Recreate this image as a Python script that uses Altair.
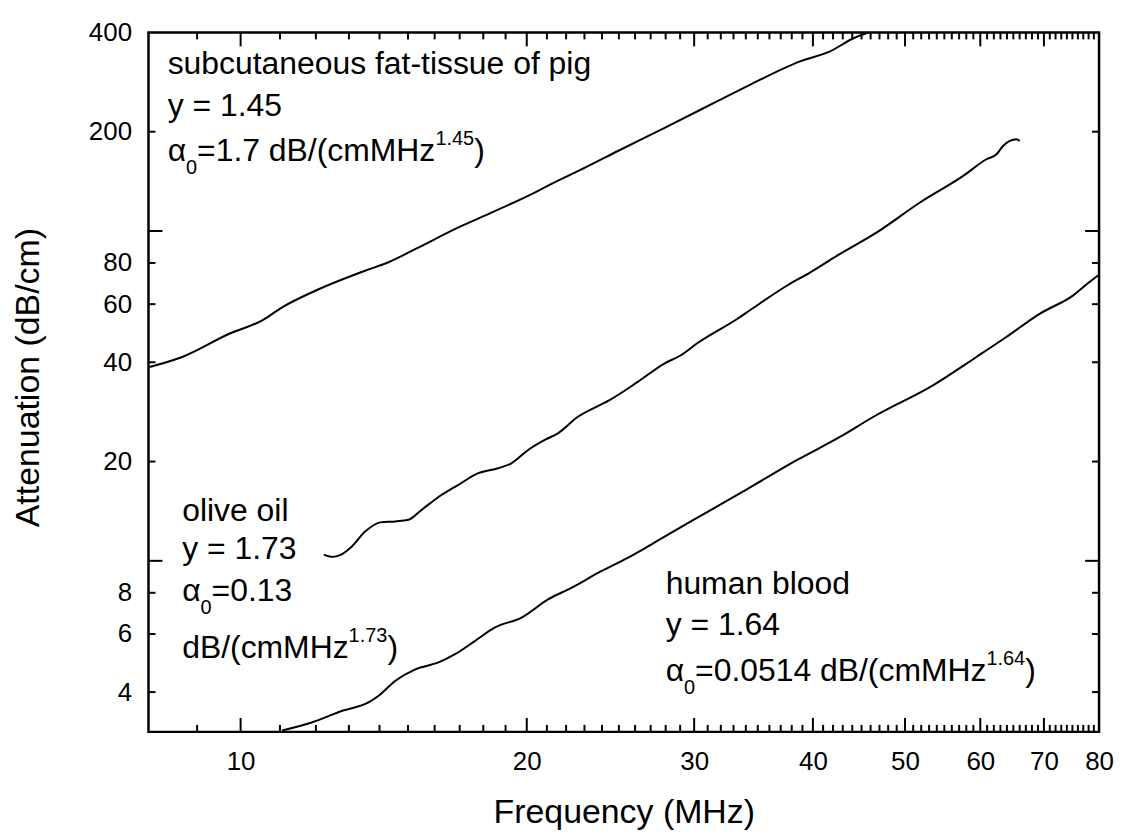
import altair as alt
import pandas as pd

# ---------------- data ----------------
fat_f = [8.02, 8.68, 9.73, 10.54, 11.06, 12.0, 13.54, 14.31, 15.28, 16.95, 18.22, 20.56,
         21.21, 23.03, 24.94, 27.93, 31.74, 34.38, 38.78, 41.7, 44.19, 45.8]
fat_a = [38.7, 41.5, 48.8, 53.6, 58.7, 66.0, 75.9, 80.4, 88.2, 102.5, 112.5, 132.4,
         138.7, 155.6, 174.8, 205.5, 247.5, 278.0, 326.8, 350.6, 384.6, 400.0]

oil_f = [12.23, 12.49, 12.74, 13.05, 13.53, 14.03, 14.55, 15.02, 15.51, 16.28, 16.95, 17.78,
         18.66, 19.27, 20.07, 20.89, 21.57, 22.64, 23.76, 24.44, 26.17, 27.91, 29.05, 30.25,
         33.32, 34.4, 37.58, 39.76, 42.42, 46.7, 51.84, 57.57, 60.9, 62.4, 63.4, 65.5, 66.0]
oil_a = [10.44, 10.28, 10.42, 10.95, 12.29, 13.08, 13.17, 13.32, 14.29, 15.86, 17.0, 18.44,
         19.09, 19.76, 21.68, 23.25, 24.36, 27.34, 29.45, 30.72, 34.87, 39.64, 42.0, 45.74,
         54.2, 57.7, 68.35, 74.95, 84.2, 99.0, 122.0, 146.9, 165.0, 170.8, 181.0, 189.6, 187.4]

blood_f = [11.06, 11.9, 12.79, 13.63, 13.97, 14.55, 15.27, 16.15, 16.81, 17.65, 18.52, 19.75,
           21.06, 22.28, 23.95, 25.54, 27.03, 29.76, 32.26, 34.96, 38.5, 42.75, 46.33, 53.55,
           59.44, 63.9, 69.27, 75.08, 78.1, 79.8]
blood_a = [3.06, 3.24, 3.51, 3.72, 3.90, 4.33, 4.69, 4.92, 5.21, 5.72, 6.28, 6.73,
           7.64, 8.28, 9.30, 10.21, 11.2, 13.17, 15.03, 17.2, 20.22, 23.78, 27.34, 34.1,
           41.5, 47.7, 56.1, 63.7, 69.9, 73.3]

x_labels = [10, 20, 30, 40, 50, 60, 70, 80]
y_labels = [4, 6, 8, 20, 40, 60, 80, 200, 400]
x_minor = [v for v in range(9, 80) if v % 10 != 0]
x_major = [10, 20, 30, 40, 50, 60, 70]
y_minor = [4, 6, 8, 20, 40, 60, 80, 200]
y_major = [10, 100]

# annotation texts (anchor frequency / attenuation)
ann_text = ["subcutaneous fat-tissue of pig", "y = 1.45", "α",
            "olive oil", "y = 1.73", "α", "dB/(cmMHz",
            "human blood", "y = 1.64", "α"]
ann_f = [8.38, 8.38, 8.38, 8.68, 8.68, 8.68, 8.68, 28.0, 28.0, 28.0]
ann_a = [298.7, 223.0, 163.0, 13.23, 10.16, 7.53, 5.07, 7.91, 5.95, 4.32]

alpha_f = [8.38, 8.68, 28.0]
alpha_a = [163.0, 7.53, 4.32]
after_sub_text = ["=1.7 dB/(cmMHz", "=0.13", "=0.0514 dB/(cmMHz"]

sup_text = ["1.45", "1.73", "1.64"]
sup_f = [16.03, 12.99, 60.9]
sup_a = [163.0, 5.07, 4.32]

# ---------------- chart ----------------
W, H = 954, 702
FONT = "Liberation Sans"
xs = alt.Scale(type="log", domain=[8, 80], nice=False)
ys = alt.Scale(type="log", domain=[3.03, 400], nice=False)

curves = pd.DataFrame({
    "series": ["fat"] * len(fat_f) + ["oil"] * len(oil_f) + ["blood"] * len(blood_f),
    "f": fat_f + oil_f + blood_f,
    "a": fat_a + oil_a + blood_a,
    "i": list(range(len(fat_f))) + list(range(len(oil_f))) + list(range(len(blood_f))),
})

x_axis = alt.Axis(values=x_labels, format="d", title="Frequency (MHz)", ticks=False,
                  domain=False, grid=False, labelFont=FONT, labelFontSize=26, labelColor="black",
                  labelPadding=17, labelFlush=False, labelOverlap=False,
                  titleFont=FONT, titleFontSize=34, titleFontWeight="normal", titleColor="black",
                  titleX=477, titleY=91, titleBaseline="alphabetic", titleAlign="center")
y_axis = alt.Axis(values=y_labels, format="d", title="Attenuation (dB/cm)", ticks=False,
                  domain=False, grid=False, labelFont=FONT, labelFontSize=26, labelColor="black",
                  labelPadding=17, labelFlush=False, labelOverlap=False,
                  titleFont=FONT, titleFontSize=34, titleFontWeight="normal", titleColor="black",
                  titleX=-110, titleY=346, titleAngle=270, titleBaseline="alphabetic",
                  titleAlign="center")

X = alt.X("f:Q", scale=xs, axis=x_axis)
Y = alt.Y("a:Q", scale=ys, axis=y_axis)

lines = alt.Chart(curves).mark_line(color="black", strokeWidth=2, clip=True,
                                    interpolate="monotone").encode(
    x=X, y=Y, detail="series:N", order="i:Q")


def xticks(vals, y0, y1):
    return alt.Chart(pd.DataFrame({"f": vals})).mark_rule(color="black", strokeWidth=2).encode(
        x=X, y=alt.value(y0), y2=alt.value(y1))


def yticks(vals, x0, x1):
    return alt.Chart(pd.DataFrame({"a": vals})).mark_rule(color="black", strokeWidth=2).encode(
        y=Y, x=alt.value(x0), x2=alt.value(x1))


ticks = [
    xticks(x_minor, H, H - 7), xticks(x_major, H, H - 14),
    xticks(x_minor, 0, 7), xticks(x_major, 0, 14),
    yticks(y_minor, 0, 7), yticks(y_major, 0, 14),
    yticks(y_minor, W, W - 7), yticks(y_major, W, W - 14),
]


def texts(df, size, dx=0, dy=0):
    return alt.Chart(df).mark_text(font=FONT, fontSize=size, align="left", baseline="alphabetic",
                                   color="black", dx=dx, dy=dy).encode(
        x=X, y=Y, text="text:N")


plain = texts(pd.DataFrame({"f": ann_f, "a": ann_a, "text": ann_text}), 32)
subs = texts(pd.DataFrame({"f": alpha_f, "a": alpha_a, "text": ["0"] * 3}), 20, dx=18.5, dy=13)
after = texts(pd.DataFrame({"f": alpha_f, "a": alpha_a, "text": after_sub_text}), 32, dx=29.5)
sups = texts(pd.DataFrame({"f": sup_f, "a": sup_a, "text": sup_text}), 20, dy=-16)
close = texts(pd.DataFrame({"f": sup_f, "a": sup_a, "text": [")"] * 3}), 32, dx=39)

chart = alt.layer(lines, *ticks, plain, subs, after, sups, close).properties(
    width=W, height=H,
    autosize=alt.AutoSizeParams(type="none"),
    padding={"left": 141, "top": 23, "right": 15, "bottom": 99},
).configure_view(stroke="black", strokeWidth=2.5)

chart.save("out.html", embed_options={"renderer": "svg", "actions": False})
